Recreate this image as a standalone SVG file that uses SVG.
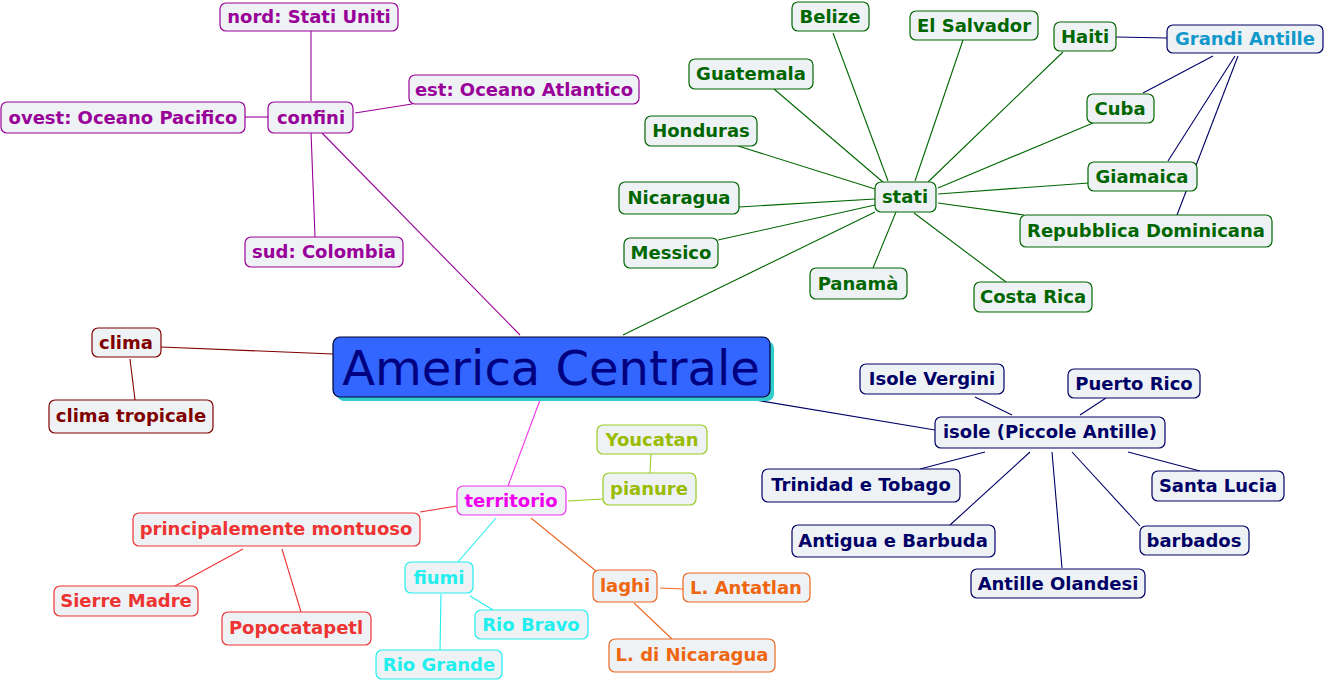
<svg xmlns="http://www.w3.org/2000/svg" width="1324" height="682" viewBox="0 0 1324 682">
<style>
text{font-family:"DejaVu Sans",Verdana,sans-serif;font-weight:bold;font-size:18px;text-anchor:middle}
rect.n{fill:#eef2f4;stroke-width:1.2}
line{stroke-width:1.1}
.pu rect{stroke:#990099}.pu text{fill:#990099}
.gr rect{stroke:#006600}.gr text{fill:#006600}
.bl rect{stroke:#000066}.bl text{fill:#1199cc}
.dr rect{stroke:#800000}.dr text{fill:#800000}
.nv rect{stroke:#000066}.nv text{fill:#000066}
.mg rect{stroke:#ee33ee}.mg text{fill:#ee00ee}
.yg rect{stroke:#99cc22}.yg text{fill:#99bb00}
.rd rect{stroke:#ee3333}.rd text{fill:#ee3333}
.cy rect{stroke:#22eeee}.cy text{fill:#22eeee}
.or rect{stroke:#ee6622}.or text{fill:#ee6611}
</style>
<rect width="1324" height="682" fill="#ffffff"/>
<g id="connectors" fill="none">
<g stroke="#990099">
<line x1="311" y1="31" x2="311" y2="101"/>
<line x1="355" y1="113" x2="412" y2="104"/>
<line x1="245" y1="117" x2="269" y2="117"/>
<line x1="311" y1="132" x2="315" y2="237"/>
<line x1="322" y1="133" x2="520" y2="335"/>
</g>
<g stroke="#006600">
<line x1="833" y1="33" x2="888" y2="181"/>
<line x1="963" y1="40" x2="915" y2="181"/>
<line x1="1063" y1="52" x2="928" y2="182"/>
<line x1="774" y1="89" x2="884" y2="183"/>
<line x1="1093" y1="123" x2="938" y2="188"/>
<line x1="738" y1="146" x2="875" y2="189"/>
<line x1="1089" y1="183" x2="938" y2="194"/>
<line x1="739" y1="207" x2="875" y2="199"/>
<line x1="718" y1="240" x2="875" y2="205"/>
<line x1="1024" y1="215" x2="938" y2="203"/>
<line x1="873" y1="268" x2="896" y2="212"/>
<line x1="1006" y1="282" x2="914" y2="213"/>
<line x1="875" y1="212" x2="623" y2="335"/>
</g>
<g stroke="#000066">
<line x1="1116" y1="37" x2="1167" y2="38"/>
<line x1="1143" y1="93" x2="1213" y2="56"/>
<line x1="1168" y1="161" x2="1235" y2="56"/>
<line x1="1177" y1="215" x2="1238" y2="56"/>
</g>
<g stroke="#800000">
<line x1="161" y1="347" x2="333" y2="354"/>
<line x1="130" y1="359" x2="135" y2="400"/>
</g>
<g stroke="#000066">
<line x1="755" y1="400" x2="935" y2="430"/>
<line x1="975" y1="397" x2="1012" y2="415"/>
<line x1="1106" y1="398" x2="1080" y2="415"/>
<line x1="920" y1="469" x2="985" y2="452"/>
<line x1="950" y1="525" x2="1030" y2="452"/>
<line x1="1062" y1="568" x2="1052" y2="452"/>
<line x1="1140" y1="526" x2="1072" y2="452"/>
<line x1="1200" y1="471" x2="1128" y2="452"/>
</g>
<line stroke="#ee33ee" x1="540" y1="400" x2="508" y2="486"/>
<g stroke="#99cc22">
<line x1="568" y1="501" x2="603" y2="499"/>
<line x1="651" y1="454" x2="650" y2="473"/>
</g>
<g stroke="#ee3333">
<line x1="420" y1="512" x2="457" y2="506"/>
<line x1="243" y1="549" x2="175" y2="586"/>
<line x1="282" y1="549" x2="301" y2="612"/>
</g>
<g stroke="#22eeee">
<line x1="496" y1="518" x2="458" y2="562"/>
<line x1="470" y1="596" x2="493" y2="610"/>
<line x1="441" y1="594" x2="440" y2="650"/>
</g>
<g stroke="#ee6622">
<line x1="531" y1="518" x2="596" y2="571"/>
<line x1="660" y1="588" x2="683" y2="589"/>
<line x1="634" y1="603" x2="672" y2="639"/>
</g>
</g>

<g id="central">
<rect x="337" y="341" width="437" height="60" rx="7" fill="#33cccc"/>
<rect x="333" y="337" width="437" height="60" rx="7" fill="#3366ff" stroke="#000033" stroke-width="1.2"/>
<text x="551" y="385" style="font-weight:normal;font-size:48px;fill:#000080">America Centrale</text>
</g>

<g id="nord" class="pu"><rect class="n" x="220" y="3" width="178" height="28" rx="6"/><text x="309" y="23">nord: Stati Uniti</text></g>
<g id="est" class="pu"><rect class="n" x="409" y="75" width="230" height="29" rx="6"/><text x="524" y="96">est: Oceano Atlantico</text></g>
<g id="ovest" class="pu"><rect class="n" x="1" y="102" width="244" height="31" rx="6"/><text x="123" y="124">ovest: Oceano Pacifico</text></g>
<g id="confini" class="pu"><rect class="n" x="268" y="102" width="85" height="31" rx="6"/><text x="311" y="124">confini</text></g>
<g id="sud" class="pu"><rect class="n" x="245" y="237" width="158" height="30" rx="6"/><text x="324" y="258">sud: Colombia</text></g>

<g id="belize" class="gr"><rect class="n" x="792" y="2" width="77" height="29" rx="6"/><text x="830" y="23">Belize</text></g>
<g id="elsalvador" class="gr"><rect class="n" x="910" y="11" width="128" height="29" rx="6"/><text x="974" y="32">El Salvador</text></g>
<g id="haiti" class="gr"><rect class="n" x="1054" y="22" width="62" height="29" rx="6"/><text x="1085" y="43">Haiti</text></g>
<g id="grandiantille" class="bl"><rect class="n" x="1167" y="25" width="156" height="28" rx="6"/><text x="1245" y="45">Grandi Antille</text></g>
<g id="guatemala" class="gr"><rect class="n" x="689" y="59" width="124" height="30" rx="6"/><text x="751" y="80">Guatemala</text></g>
<g id="cuba" class="gr"><rect class="n" x="1087" y="94" width="67" height="29" rx="6"/><text x="1120" y="115">Cuba</text></g>
<g id="honduras" class="gr"><rect class="n" x="645" y="116" width="112" height="30" rx="6"/><text x="701" y="137">Honduras</text></g>
<g id="stati" class="gr"><rect class="n" x="875" y="182" width="61" height="30" rx="6"/><text x="905" y="203">stati</text></g>
<g id="nicaragua" class="gr"><rect class="n" x="619" y="182" width="120" height="32" rx="6"/><text x="679" y="204">Nicaragua</text></g>
<g id="giamaica" class="gr"><rect class="n" x="1088" y="162" width="109" height="29" rx="6"/><text x="1142" y="183">Giamaica</text></g>
<g id="messico" class="gr"><rect class="n" x="624" y="238" width="94" height="30" rx="6"/><text x="671" y="259">Messico</text></g>
<g id="repdom" class="gr"><rect class="n" x="1020" y="215" width="252" height="32" rx="6"/><text x="1146" y="237">Repubblica Dominicana</text></g>
<g id="panama" class="gr"><rect class="n" x="810" y="268" width="97" height="31" rx="6"/><text x="858" y="290">Panamà</text></g>
<g id="costarica" class="gr"><rect class="n" x="974" y="282" width="118" height="30" rx="6"/><text x="1033" y="303">Costa Rica</text></g>

<g id="clima" class="dr"><rect class="n" x="92" y="328" width="69" height="29" rx="6"/><text x="126" y="349">clima</text></g>
<g id="climatropicale" class="dr"><rect class="n" x="49" y="400" width="164" height="33" rx="6"/><text x="131" y="422">clima tropicale</text></g>

<g id="isolevergini" class="nv"><rect class="n" x="860" y="364" width="144" height="30" rx="6"/><text x="932" y="385">Isole Vergini</text></g>
<g id="puertorico" class="nv"><rect class="n" x="1068" y="369" width="132" height="29" rx="6"/><text x="1134" y="390">Puerto Rico</text></g>
<g id="isole" class="nv"><rect class="n" x="935" y="417" width="230" height="31" rx="6"/><text x="1050" y="438">isole (Piccole Antille)</text></g>
<g id="trinidad" class="nv"><rect class="n" x="762" y="469" width="198" height="33" rx="6"/><text x="861" y="491">Trinidad e Tobago</text></g>
<g id="santalucia" class="nv"><rect class="n" x="1152" y="471" width="132" height="30" rx="6"/><text x="1218" y="492">Santa Lucia</text></g>
<g id="antigua" class="nv"><rect class="n" x="792" y="525" width="203" height="32" rx="6"/><text x="893" y="547">Antigua e Barbuda</text></g>
<g id="barbados" class="nv"><rect class="n" x="1140" y="526" width="109" height="29" rx="6"/><text x="1194" y="547">barbados</text></g>
<g id="antilleolandesi" class="nv"><rect class="n" x="971" y="569" width="174" height="29" rx="6"/><text x="1058" y="590">Antille Olandesi</text></g>

<g id="territorio" class="mg"><rect class="n" x="457" y="486" width="109" height="29" rx="6"/><text x="511" y="507">territorio</text></g>
<g id="pianure" class="yg"><rect class="n" x="603" y="473" width="93" height="32" rx="6"/><text x="649" y="495">pianure</text></g>
<g id="youcatan" class="yg"><rect class="n" x="597" y="425" width="110" height="29" rx="6"/><text x="652" y="446">Youcatan</text></g>
<g id="montuoso" class="rd"><rect class="n" x="133" y="513" width="287" height="33" rx="6"/><text x="276" y="535">principalemente montuoso</text></g>
<g id="sierremadre" class="rd"><rect class="n" x="54" y="586" width="144" height="30" rx="6"/><text x="126" y="607">Sierre Madre</text></g>
<g id="popocatapetl" class="rd"><rect class="n" x="222" y="612" width="149" height="33" rx="6"/><text x="296" y="634">Popocatapetl</text></g>
<g id="fiumi" class="cy"><rect class="n" x="405" y="562" width="68" height="31" rx="6"/><text x="439" y="584">fiumi</text></g>
<g id="riobravo" class="cy"><rect class="n" x="475" y="610" width="113" height="29" rx="6"/><text x="531" y="631">Rio Bravo</text></g>
<g id="riogrande" class="cy"><rect class="n" x="376" y="650" width="126" height="29" rx="6"/><text x="439" y="671">Rio Grande</text></g>
<g id="laghi" class="or"><rect class="n" x="593" y="570" width="64" height="32" rx="6"/><text x="625" y="592">laghi</text></g>
<g id="antatlan" class="or"><rect class="n" x="683" y="573" width="127" height="29" rx="6"/><text x="746" y="594">L. Antatlan</text></g>
<g id="lnicaragua" class="or"><rect class="n" x="609" y="639" width="166" height="33" rx="6"/><text x="692" y="661">L. di Nicaragua</text></g>
</svg>
